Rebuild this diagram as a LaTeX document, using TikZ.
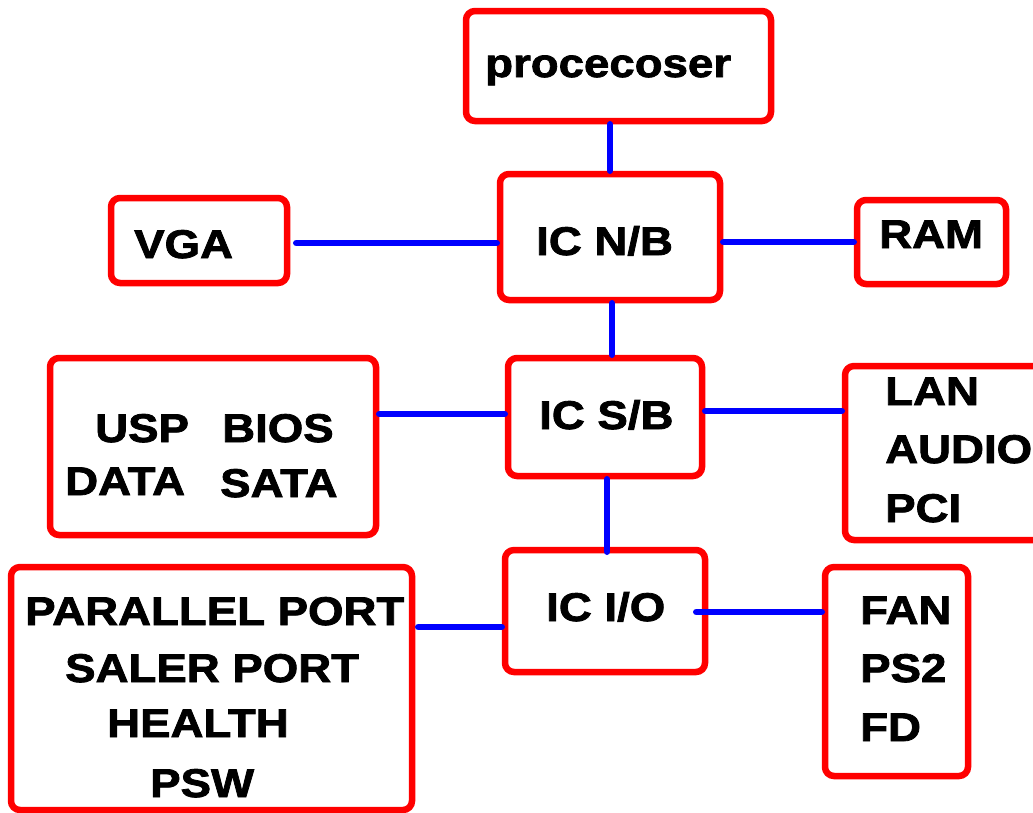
\documentclass[tikz,border=0pt]{standalone}
\usepackage{fontspec}
\newfontfamily\bfont{Liberation Sans Bold}[FakeStretch=1.14, FakeBold=2]
\usetikzlibrary{calc}
\definecolor{boxred}{RGB}{255,0,0}
\definecolor{linkblue}{RGB}{0,0,255}
\tikzset{
  box/.style={draw=boxred, line width=6.5pt, rounded corners=9pt, inner sep=0pt, fill=none},
  link/.style={draw=linkblue, line width=6.5pt, line cap=round},
  lbl/.style={font=\bfont\fontsize{40}{48}\selectfont, inner sep=0pt, anchor=base west, text=black}
}
\begin{document}
\begin{tikzpicture}[x=1pt,y=-1pt]
\fill[white] (0,0) rectangle (1033,812);
\useasboundingbox (0,0) rectangle (1033,812);
% boxes
\node[box, minimum width=305pt, minimum height=110pt] (proc) at (618.5,66) {};
\node[box, minimum width=220pt, minimum height=126pt] (nb) at (610,237) {};
\node[box, minimum width=176pt, minimum height=85pt] (vga) at (199,240.5) {};
\node[box, minimum width=149pt, minimum height=84pt] (ram) at (931.5,242) {};
\node[box, minimum width=194pt, minimum height=118pt] (sb) at (605,417) {};
\node[box, minimum width=200pt, minimum height=122pt] (io) at (605,611) {};
\node[box, minimum width=326pt, minimum height=177pt] (usp) at (213,446.5) {};
\node[box, minimum width=200pt, minimum height=174pt] (lan) at (945,453) {};
\node[box, minimum width=401pt, minimum height=243pt] (par) at (211.5,688.5) {};
\node[box, minimum width=143pt, minimum height=209pt] (fan) at (896.5,671.5) {};
% connectors
\draw[link] (proc.south -| nb.north) -- (nb.north);
\draw[link] ($(vga.east)+(6,2.5)$) -- ($(nb.west |- vga.east)+(0,2.5)$);
\draw[link] (nb.east |- ram.west) -- (ram.west);
\draw[link] ($(nb.south)+(2,0)$) -- ($(nb.south |- sb.north)+(2,0)$);
\draw[link] ($(usp.east |- sb.west)+(0,-3)$) -- ($(sb.west)+(0,-3)$);
\draw[link] ($(sb.east)+(0,-6)$) -- ($(lan.west |- sb.east)+(0,-6)$);
\draw[link] ($(sb.south)+(2,0)$) -- ($(io.north)+(2,5)$);
\draw[link] ($(io.west)+(0,16)$) -- ($(par.east |- io.west)+(3,16)$);
\draw[link] ($(io.east)+(-12,1)$) -- ($(fan.west |- io.east)+(0,1)$);
% labels
\node[lbl] (tproc) at (485,77) {procecoser};
\node[lbl] (tnb) at (536,255) {IC N/B};
\node[lbl] (tvga) at (134,258) {VGA};
\node[lbl] (tram) at (879,248) {RAM};
\node[lbl] (tsb) at (539,429) {IC S/B};
\node[lbl] (tio) at (546,621) {IC I/O};
\node[lbl] (tusp) at (95,442) {USP};
\node[lbl] (tbios) at (222,442) {BIOS};
\node[lbl] (tdata) at (65,495) {DATA};
\node[lbl] (tsata) at (220,497) {SATA};
\node[lbl] (tlan) at (885,405) {LAN};
\node[lbl] (taudio) at (885,463) {AUDIO};
\node[lbl] (tpci) at (885,522) {PCI};
\node[lbl] (tpar) at (25,625) {PARALLEL PORT};
\node[lbl] (tsaler) at (65,682) {SALER PORT};
\node[lbl] (thealth) at (107,737) {HEALTH};
\node[lbl] (tpsw) at (150,797) {PSW};
\node[lbl] (tfan) at (860,624) {FAN};
\node[lbl] (tps) at (860,682) {PS2};
\node[lbl] (tfd) at (860,741) {FD};
\end{tikzpicture}
\end{document}
